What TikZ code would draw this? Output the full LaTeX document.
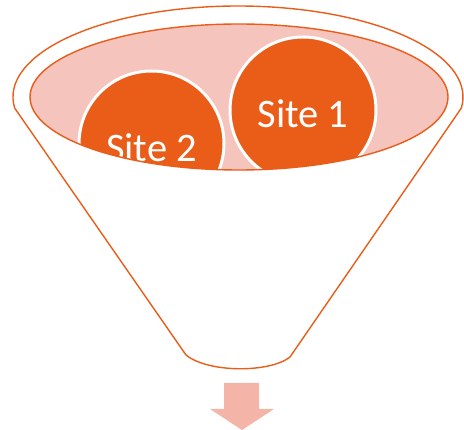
\documentclass[tikz,border=0pt]{standalone}
\usepackage{fontspec}
\setmainfont{Carlito}
\definecolor{funnelorange}{HTML}{E95D19}
\definecolor{bowlpink}{HTML}{F5C4BC}
\definecolor{arrowpink}{HTML}{F4B5A8}
\tikzset{
  funneledge/.style={draw=funnelorange, line width=1.4pt, line join=round},
  sitedisc/.style={circle, fill=funnelorange, draw=white, line width=3pt, inner sep=0pt, minimum size=#1},
  sitelabel/.style={text=white, inner sep=0pt, font=\fontsize{40.5}{48}\selectfont},
}
\begin{document}
\begin{tikzpicture}[x=1pt,y=-1pt]
\useasboundingbox (0,0) rectangle (464,430);

% funnel body: rim arc, two sides and the rounded spout
\draw[funneledge, fill=white]
  (186,355) -- ({238+225*cos(173)},{97+91*sin(173)})
  arc[start angle=173, end angle=367, x radius=225, y radius=91]
  -- (290,357)
  .. controls (270,373) and (208,373) .. cycle;

% the bowl opening
\fill[bowlpink] (239,97) ellipse[x radius=209, y radius=73];

% discs sitting in the bowl, cut off by its front rim
\begin{scope}
  \clip (239,97) ellipse[x radius=209, y radius=73];
  \node[sitedisc=145pt] (site2) at (151.5,143.5) {};
  \node[sitelabel, anchor=base] (site2text) at ([yshift=-18pt]site2.center) {Site 2};
  \node[sitedisc=146pt] (site1) at (303,110) {};
  \node[sitelabel, anchor=base] (site1text) at ([yshift=-18pt]site1.center) {Site 1};
\end{scope}
\draw[funneledge] (239,97) ellipse[x radius=209, y radius=73];

% outflow arrow under the spout
\fill[arrowpink] (224,383) -- (259,383) -- (259,409) -- (274,409)
  -- (242,430) -- (210,409) -- (224,409) -- cycle;
\end{tikzpicture}
\end{document}
